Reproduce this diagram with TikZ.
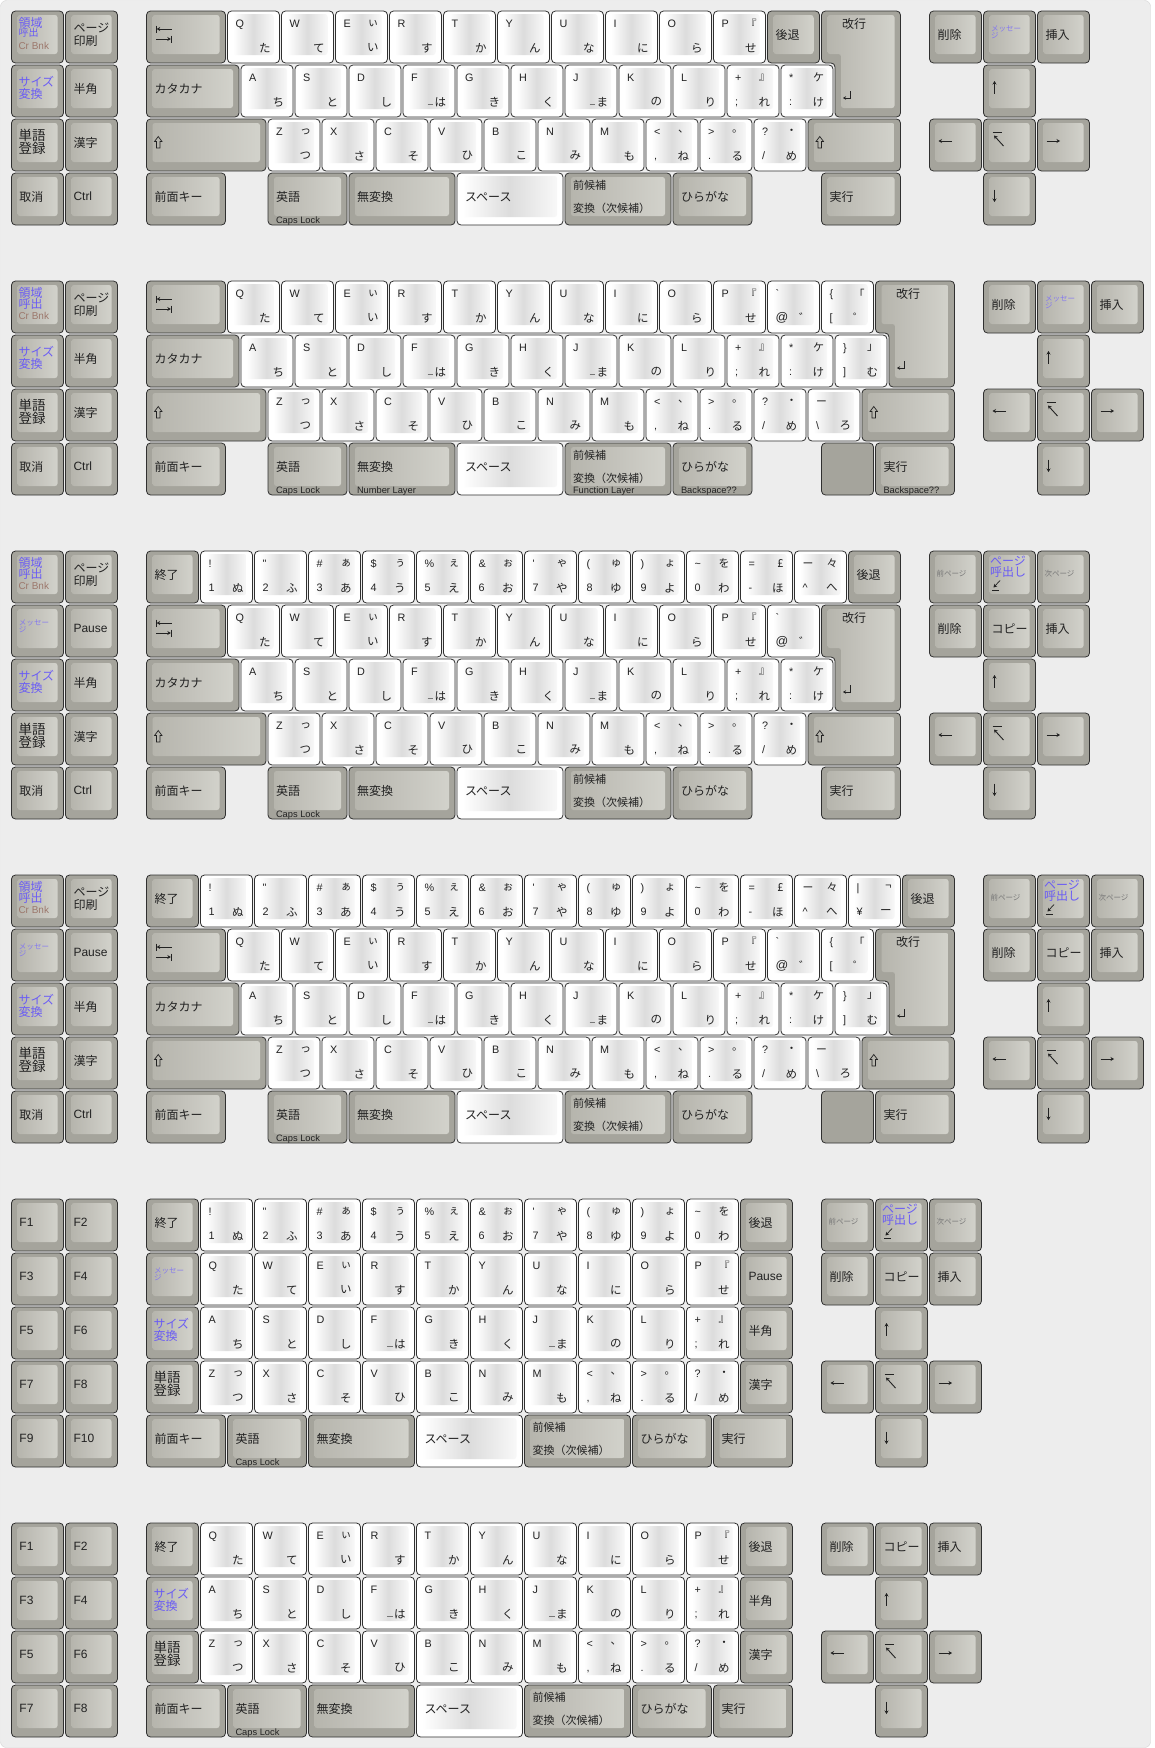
\documentclass[tikz,border=0pt]{standalone}
\usepackage{fontspec}
\setmainfont{Liberation Sans}
\newfontfamily\jp{Noto Sans CJK JP}
\newfontfamily\lat{Liberation Sans}
\usetikzlibrary{arrows.meta}
\definecolor{bgc}{HTML}{EDEDED}
\definecolor{bgline}{HTML}{D6D6D6}
\definecolor{kout}{HTML}{A5A49C}
\definecolor{kedge}{HTML}{303030}
\definecolor{gfl}{HTML}{B6B5AD}
\definecolor{gfm}{HTML}{C4C3BC}
\definecolor{gfr}{HTML}{D2D2CB}
\definecolor{wfm}{HTML}{DCDCDC}
\definecolor{wfr}{HTML}{F8F8F8}
\definecolor{blu}{HTML}{6A5CF5}
\definecolor{lblu}{HTML}{8478F0}
\definecolor{brn}{HTML}{9C786C}
\definecolor{ink}{HTML}{222222}
\definecolor{sml}{HTML}{777777}
\newcount\nn
\tikzset{
  lab/.style={inner sep=0pt,outer sep=0pt,text=ink},
  glab/.style={lab,anchor=west,align=left,font=\jp\fontsize{12}{12.5}\selectfont},
  sublab/.style={lab,anchor=base west,font=\lat\fontsize{9.3}{9.5}\selectfont},
  ktl/.style={lab,anchor=base west,font=\lat\fontsize{10.8}{11}\selectfont},
  ktr/.style={lab,anchor=east,font=\jp\fontsize{11}{11}\selectfont},
  kbr/.style={lab,anchor=east,font=\jp\fontsize{11.5}{12}\selectfont},
  sym/.style={draw=ink,line width=0.9pt},
  arr/.style={-{Stealth[length=3.5pt,width=4pt]}},
  kbody/.style={draw=kedge,line width=0.8pt,rounded corners=4pt},
  gface/.style={left color=gfl,right color=gfr,middle color=gfm,rounded corners=2.5pt},
  wface/.style={left color=white,right color=wfr,middle color=wfm,rounded corners=2.5pt},
}
\newcommand\setxy[3]{\pgfmathsetmacro\X{10.5+54*(#1)}\pgfmathsetmacro\Y{\ky+54*(#2)}\pgfmathsetmacro\W{54*(#3)}\global\advance\nn by 1\relax}
\newcommand\gbody{\path[kbody,fill=kout] (\X+1,\Y+1) rectangle (\X+\W-1,\Y+53);
  \shade[gface] (\X+7,\Y+5) rectangle (\X+\W-7,\Y+44);}
\newcommand\wbody{\path[kbody,fill=white] (\X+1,\Y+1) rectangle (\X+\W-1,\Y+53);
  \shade[wface] (\X+6.5,\Y+4) rectangle (\X+\W-7,\Y+45);}
\newcommand\gk[4]{\setxy{#1}{#2}{#3}\gbody\node[glab] (g\the\nn) at (\X+9,\Y+24.5) {#4};}
\newcommand\gks[5]{\gk{#1}{#2}{#3}{#4}\node[sublab] (s\the\nn) at (\X+9,\Y+51) {#5};}
\newcommand\gtwo[6]{\setxy{#1}{#2}{#3}\gbody
  \node[glab,font=\jp\fontsize{11}{11}\selectfont] (g\the\nn) at (\X+9,\Y+13) {#4};
  \node[glab,font=\jp\fontsize{11}{11}\selectfont] (h\the\nn) at (\X+9,\Y+36.5) {#5};
  \node[sublab] (s\the\nn) at (\X+9,\Y+51) {#6};}
\newcommand\gkb[3]{\setxy{#1}{#2}{1}\gbody\node[glab,text=blu,font=\jp\fontsize{12}{11.5}\selectfont] (g\the\nn) at (\X+8,\Y+24) {#3};}
\newcommand\gkt[3]{\setxy{#1}{#2}{1}\gbody\node[glab,font=\jp\fontsize{13.5}{13.5}\selectfont] (g\the\nn) at (\X+8,\Y+24) {#3};}
\newcommand\regk[4]{\setxy{#1}{#2}{1}\gbody
  \node[glab,text=blu] (g\the\nn) at (\X+8,\Y+12.5) {領域};
  \node[glab,text=blu,font=\jp\fontsize{#3}{#3}\selectfont] (h\the\nn) at (\X+8,\Y+#4) {呼出};
  \node[glab,text=brn,font=\lat\fontsize{10}{10}\selectfont] (i\the\nn) at (\X+8,\Y+36) {Cr Bnk};}
\newcommand\msgk[2]{\setxy{#1}{#2}{1}\gbody
  \node[lab,anchor=north west,align=left,text=lblu,font=\jp\fontsize{7.5}{6.5}\selectfont] (g\the\nn) at (\X+8.5,\Y+15.5) {メッセー\\ジ};}
\newcommand\pgs[3]{\setxy{#1}{#2}{1}\gbody
  \node[lab,anchor=west,text=sml,font=\jp\fontsize{7.5}{8}\selectfont] (g\the\nn) at (\X+8,\Y+23.5) {#3};}
\newcommand\pgc[2]{\setxy{#1}{#2}{1}\gbody
  \node[lab,anchor=north west,align=left,text=blu,font=\jp\fontsize{12}{11}\selectfont] (g\the\nn) at (\X+7.5,\Y+6) {ページ\\呼出し};
  \draw[sym,line width=0.7pt,arr] (\X+17.5,\Y+30.5)--(\X+11,\Y+37.5);
  \draw[sym,line width=0.7pt] (\X+9.5,\Y+40)--(\X+16,\Y+40);}
\newcommand\tabk[2]{\setxy{#1}{#2}{1.5}\gbody
  \draw[sym] (\X+10.5,\Y+15.5)--(\X+10.5,\Y+22.5);
  \draw[sym,arr] (\X+26,\Y+19)--(\X+11.2,\Y+19);
  \draw[sym,arr] (\X+10.5,\Y+29)--(\X+25.3,\Y+29);
  \draw[sym] (\X+26,\Y+25.5)--(\X+26,\Y+32.5);}
\newcommand\shk[3]{\setxy{#1}{#2}{#3}\gbody
  \draw[sym,line width=0.7pt] (\X+12.75,\Y+18.5)--(\X+16.5,\Y+23.5)--(\X+14.5,\Y+23.5)--(\X+14.5,\Y+30)--(\X+11,\Y+30)--(\X+11,\Y+23.5)--(\X+9,\Y+23.5)--cycle;}
\newcommand\ent[2]{\setxy{#1}{#2}{1.5}%
  \pgfmathsetmacro\Xb{\X+13.5}\pgfmathsetmacro\Xr{\X+81}%
  \path[kbody,fill=kout] (\X+1,\Y+1)--(\Xr-1,\Y+1)--(\Xr-1,\Y+107)--(\Xb+1,\Y+107)--(\Xb+1,\Y+53)--(\X+1,\Y+53)--cycle;
  \shade[gface] (\X+7,\Y+5)--(\Xr-7,\Y+5)--(\Xr-7,\Y+98)--(\Xb+7,\Y+98)--(\Xb+7,\Y+44)--(\X+7,\Y+44)--cycle;
  \node[glab] (g\the\nn) at (\Xb+8,\Y+13.5) {改行};
  \draw[sym,line width=0.8pt,-{Stealth[length=3pt,width=3.5pt]}] (\Xb+16,\Y+81)--(\Xb+16,\Y+88)--(\Xb+9,\Y+88);}
\newcommand\spk[3]{\setxy{#1}{#2}{#3}\wbody\node[glab] (g\the\nn) at (\X+9,\Y+25) {スペース};}
\newcommand\blank[3]{\setxy{#1}{#2}{#3}\path[kbody,fill=kout] (\X+1,\Y+1) rectangle (\X+\W-1,\Y+53);}
\newcommand\kup[2]{\setxy{#1}{#2}{1}\gbody\draw[sym,arr] (\X+12,\Y+29.5)--(\X+12,\Y+17);}
\newcommand\kdn[2]{\setxy{#1}{#2}{1}\gbody\draw[sym,arr] (\X+12,\Y+17.5)--(\X+12,\Y+30);}
\newcommand\klf[2]{\setxy{#1}{#2}{1}\gbody\draw[sym,arr] (\X+23.5,\Y+23)--(\X+10,\Y+23);}
\newcommand\krt[2]{\setxy{#1}{#2}{1}\gbody\draw[sym,arr] (\X+10,\Y+23)--(\X+23.5,\Y+23);}
\newcommand\khm[2]{\setxy{#1}{#2}{1}\gbody\draw[sym] (\X+10,\Y+14.5)--(\X+19,\Y+14.5);\draw[sym,arr] (\X+21,\Y+28)--(\X+11.5,\Y+17.5);}
\newcommand\wk[6]{\setxy{#1}{#2}{1}\wbody
  \node[ktl] (a\the\nn) at (\X+9,\Y+17) {#3};
  \node[ktr] (b\the\nn) at (\X+44,\Y+13.5) {#4};
  \node[ktl] (c\the\nn) at (\X+9,\Y+41) {#5};
  \node[kbr] (d\the\nn) at (\X+44,\Y+38) {#6};}
\newcommand\us{{\color{sml}\rule[1.5pt]{5.5pt}{0.7pt}}\hspace{1.5pt}}
\newcommand\qrow[2]{%
 \wk{#1}{#2}{Q}{}{}{た}\wk{#1+1}{#2}{W}{}{}{て}\wk{#1+2}{#2}{E}{ぃ}{}{い}%
 \wk{#1+3}{#2}{R}{}{}{す}\wk{#1+4}{#2}{T}{}{}{か}\wk{#1+5}{#2}{Y}{}{}{ん}%
 \wk{#1+6}{#2}{U}{}{}{な}\wk{#1+7}{#2}{I}{}{}{に}\wk{#1+8}{#2}{O}{}{}{ら}%
 \wk{#1+9}{#2}{P}{『}{}{せ}}
\newcommand\arow[2]{%
 \wk{#1}{#2}{A}{}{}{ち}\wk{#1+1}{#2}{S}{}{}{と}\wk{#1+2}{#2}{D}{}{}{し}%
 \wk{#1+3}{#2}{F}{}{}{\us は}\wk{#1+4}{#2}{G}{}{}{き}\wk{#1+5}{#2}{H}{}{}{く}%
 \wk{#1+6}{#2}{J}{}{}{\us ま}\wk{#1+7}{#2}{K}{}{}{の}\wk{#1+8}{#2}{L}{}{}{り}}
\newcommand\zrow[2]{%
 \wk{#1}{#2}{Z}{っ}{}{つ}\wk{#1+1}{#2}{X}{}{}{さ}\wk{#1+2}{#2}{C}{}{}{そ}%
 \wk{#1+3}{#2}{V}{}{}{ひ}\wk{#1+4}{#2}{B}{}{}{こ}\wk{#1+5}{#2}{N}{}{}{み}%
 \wk{#1+6}{#2}{M}{}{}{も}\wk{#1+7}{#2}{<}{、}{,}{ね}\wk{#1+8}{#2}{>}{。}{.}{る}%
 \wk{#1+9}{#2}{?}{・}{/}{め}}
\newcommand\nrow[2]{%
 \wk{#1}{#2}{!}{}{1}{ぬ}\wk{#1+1}{#2}{"}{}{2}{ふ}\wk{#1+2}{#2}{\#}{ぁ}{3}{あ}%
 \wk{#1+3}{#2}{\$}{ぅ}{4}{う}\wk{#1+4}{#2}{\%}{ぇ}{5}{え}\wk{#1+5}{#2}{\&}{ぉ}{6}{お}%
 \wk{#1+6}{#2}{\textquotesingle}{ゃ}{7}{や}\wk{#1+7}{#2}{(}{ゅ}{8}{ゆ}%
 \wk{#1+8}{#2}{)}{ょ}{9}{よ}\wk{#1+9}{#2}{\textasciitilde}{を}{0}{わ}}
\newcommand\kplus[2]{\wk{#1}{#2}{+}{』}{;}{れ}}
\newcommand\kstar[2]{\wk{#1}{#2}{*}{ケ}{:}{け}}
\newcommand\kat[2]{\wk{#1}{#2}{\textasciigrave}{}{{\fontsize{12.5}{12.5}\selectfont @}}{゛}}
\newcommand\kbrl[2]{\wk{#1}{#2}{\{}{「}{[}{゜}}
\newcommand\kbrr[2]{\wk{#1}{#2}{\}}{」}{]}{む}}
\newcommand\kbs[2]{\wk{#1}{#2}{{\jp ー}}{}{\textbackslash}{ろ}}
\newcommand\kmin[2]{\wk{#1}{#2}{=}{£}{-}{ほ}}
\newcommand\kcar[2]{\wk{#1}{#2}{{\jp ー}}{々}{\textasciicircum}{へ}}
\newcommand\kyen[2]{\wk{#1}{#2}{|}{¬}{¥}{ー}}
\newcommand\leftA[2]{%
 \regk{0}{0}{#1}{#2}\gk{1}{0}{1}{ページ\\印刷}%
 \gkb{0}{1}{サイズ\\変換}\gk{1}{1}{1}{半角}%
 \gkt{0}{2}{単語\\登録}\gk{1}{2}{1}{漢字}%
 \gk{0}{3}{1}{取消}\gk{1}{3}{1}{{\lat Ctrl}}}
\newcommand\leftB{%
 \regk{0}{0}{12}{24}\gk{1}{0}{1}{ページ\\印刷}%
 \msgk{0}{1}\gk{1}{1}{1}{{\lat Pause}}%
 \gkb{0}{2}{サイズ\\変換}\gk{1}{2}{1}{半角}%
 \gkt{0}{3}{単語\\登録}\gk{1}{3}{1}{漢字}%
 \gk{0}{4}{1}{取消}\gk{1}{4}{1}{{\lat Ctrl}}}
\newcommand\rcA[1]{\gk{#1}{0}{1}{削除}\msgk{#1+1}{0}\gk{#1+2}{0}{1}{挿入}%
 \kup{#1+1}{1}\klf{#1}{2}\khm{#1+1}{2}\krt{#1+2}{2}\kdn{#1+1}{3}}
\newcommand\rcB[1]{\pgs{#1}{0}{前ページ}\pgc{#1+1}{0}\pgs{#1+2}{0}{次ページ}%
 \gk{#1}{1}{1}{削除}\gk{#1+1}{1}{1}{コピー}\gk{#1+2}{1}{1}{挿入}%
 \kup{#1+1}{2}\klf{#1}{3}\khm{#1+1}{3}\krt{#1+2}{3}\kdn{#1+1}{4}}
\newcommand\rcC[1]{\gk{#1}{0}{1}{削除}\gk{#1+1}{0}{1}{コピー}\gk{#1+2}{0}{1}{挿入}%
 \kup{#1+1}{1}\klf{#1}{2}\khm{#1+1}{2}\krt{#1+2}{2}\kdn{#1+1}{3}}
\newcommand\botA[1]{\gk{2.5}{#1}{1.5}{前面キー}\gks{4.75}{#1}{1.5}{英語}{Caps Lock}\gk{6.25}{#1}{2}{無変換}%
 \spk{8.25}{#1}{2}\gtwo{10.25}{#1}{2}{前候補}{変換（次候補）}{}\gk{12.25}{#1}{1.5}{ひらがな}}
\newcommand\botS[1]{\gk{2.5}{#1}{1.5}{前面キー}\gks{4}{#1}{1.5}{英語}{Caps Lock}\gk{5.5}{#1}{2}{無変換}%
 \spk{7.5}{#1}{2}\gtwo{9.5}{#1}{2}{前候補}{変換（次候補）}{}\gk{11.5}{#1}{1.5}{ひらがな}\gk{13}{#1}{1.5}{実行}}
\begin{document}
\begin{tikzpicture}[x=1pt,y=-1pt]
\useasboundingbox (0,0) rectangle (1154,1748);
\fill[white] (0,0) rectangle (1154,1748);
\path[fill=bgc,draw=bgline,rounded corners=6pt] (0.5,0.5) rectangle (1150.5,1747.5);
% ---------- keyboard 1
\def\ky{10}
\leftA{10}{22.5}
\tabk{2.5}{0}\qrow{4}{0}\gk{14}{0}{1}{後退}\ent{15}{0}
\gk{2.5}{1}{1.75}{カタカナ}\arow{4.25}{1}\kplus{13.25}{1}\kstar{14.25}{1}
\shk{2.5}{2}{2.25}\zrow{4.75}{2}\shk{14.75}{2}{1.75}
\botA{3}\gk{15}{3}{1.5}{実行}
\rcA{17}
% ---------- keyboard 2
\def\ky{280}
\leftA{12}{24}
\tabk{2.5}{0}\qrow{4}{0}\kat{14}{0}\kbrl{15}{0}\ent{16}{0}
\gk{2.5}{1}{1.75}{カタカナ}\arow{4.25}{1}\kplus{13.25}{1}\kstar{14.25}{1}\kbrr{15.25}{1}
\shk{2.5}{2}{2.25}\zrow{4.75}{2}\kbs{14.75}{2}\shk{15.75}{2}{1.75}
\gk{2.5}{3}{1.5}{前面キー}\gks{4.75}{3}{1.5}{英語}{Caps Lock}\gks{6.25}{3}{2}{無変換}{Number Layer}%
\spk{8.25}{3}{2}\gtwo{10.25}{3}{2}{前候補}{変換（次候補）}{Function Layer}\gks{12.25}{3}{1.5}{ひらがな}{Backspace??}%
\blank{15}{3}{1}\gks{16}{3}{1.5}{実行}{Backspace??}
\rcA{18}
% ---------- keyboard 3
\def\ky{550}
\leftB
\gk{2.5}{0}{1}{終了}\nrow{3.5}{0}\kmin{13.5}{0}\kcar{14.5}{0}\gk{15.5}{0}{1}{後退}
\tabk{2.5}{1}\qrow{4}{1}\kat{14}{1}\ent{15}{1}
\gk{2.5}{2}{1.75}{カタカナ}\arow{4.25}{2}\kplus{13.25}{2}\kstar{14.25}{2}
\shk{2.5}{3}{2.25}\zrow{4.75}{3}\shk{14.75}{3}{1.75}
\botA{4}\gk{15}{4}{1.5}{実行}
\rcB{17}
% ---------- keyboard 4
\def\ky{874}
\leftB
\gk{2.5}{0}{1}{終了}\nrow{3.5}{0}\kmin{13.5}{0}\kcar{14.5}{0}\kyen{15.5}{0}\gk{16.5}{0}{1}{後退}
\tabk{2.5}{1}\qrow{4}{1}\kat{14}{1}\kbrl{15}{1}\ent{16}{1}
\gk{2.5}{2}{1.75}{カタカナ}\arow{4.25}{2}\kplus{13.25}{2}\kstar{14.25}{2}\kbrr{15.25}{2}
\shk{2.5}{3}{2.25}\zrow{4.75}{3}\kbs{14.75}{3}\shk{15.75}{3}{1.75}
\botA{4}\blank{15}{4}{1}\gk{16}{4}{1.5}{実行}
\rcB{18}
% ---------- keyboard 5
\def\ky{1198}
\gk{0}{0}{1}{{\lat F1}}\gk{1}{0}{1}{{\lat F2}}
\gk{0}{1}{1}{{\lat F3}}\gk{1}{1}{1}{{\lat F4}}
\gk{0}{2}{1}{{\lat F5}}\gk{1}{2}{1}{{\lat F6}}
\gk{0}{3}{1}{{\lat F7}}\gk{1}{3}{1}{{\lat F8}}
\gk{0}{4}{1}{{\lat F9}}\gk{1}{4}{1}{{\lat F10}}
\gk{2.5}{0}{1}{終了}\nrow{3.5}{0}\gk{13.5}{0}{1}{後退}
\msgk{2.5}{1}\qrow{3.5}{1}\gk{13.5}{1}{1}{{\lat Pause}}
\gkb{2.5}{2}{サイズ\\変換}\arow{3.5}{2}\kplus{12.5}{2}\gk{13.5}{2}{1}{半角}
\gkt{2.5}{3}{単語\\登録}\zrow{3.5}{3}\gk{13.5}{3}{1}{漢字}
\botS{4}
\rcB{15}
% ---------- keyboard 6
\def\ky{1522}
\gk{0}{0}{1}{{\lat F1}}\gk{1}{0}{1}{{\lat F2}}
\gk{0}{1}{1}{{\lat F3}}\gk{1}{1}{1}{{\lat F4}}
\gk{0}{2}{1}{{\lat F5}}\gk{1}{2}{1}{{\lat F6}}
\gk{0}{3}{1}{{\lat F7}}\gk{1}{3}{1}{{\lat F8}}
\gk{2.5}{0}{1}{終了}\qrow{3.5}{0}\gk{13.5}{0}{1}{後退}
\gkb{2.5}{1}{サイズ\\変換}\arow{3.5}{1}\kplus{12.5}{1}\gk{13.5}{1}{1}{半角}
\gkt{2.5}{2}{単語\\登録}\zrow{3.5}{2}\gk{13.5}{2}{1}{漢字}
\botS{3}
\rcC{15}
\end{tikzpicture}
\end{document}
